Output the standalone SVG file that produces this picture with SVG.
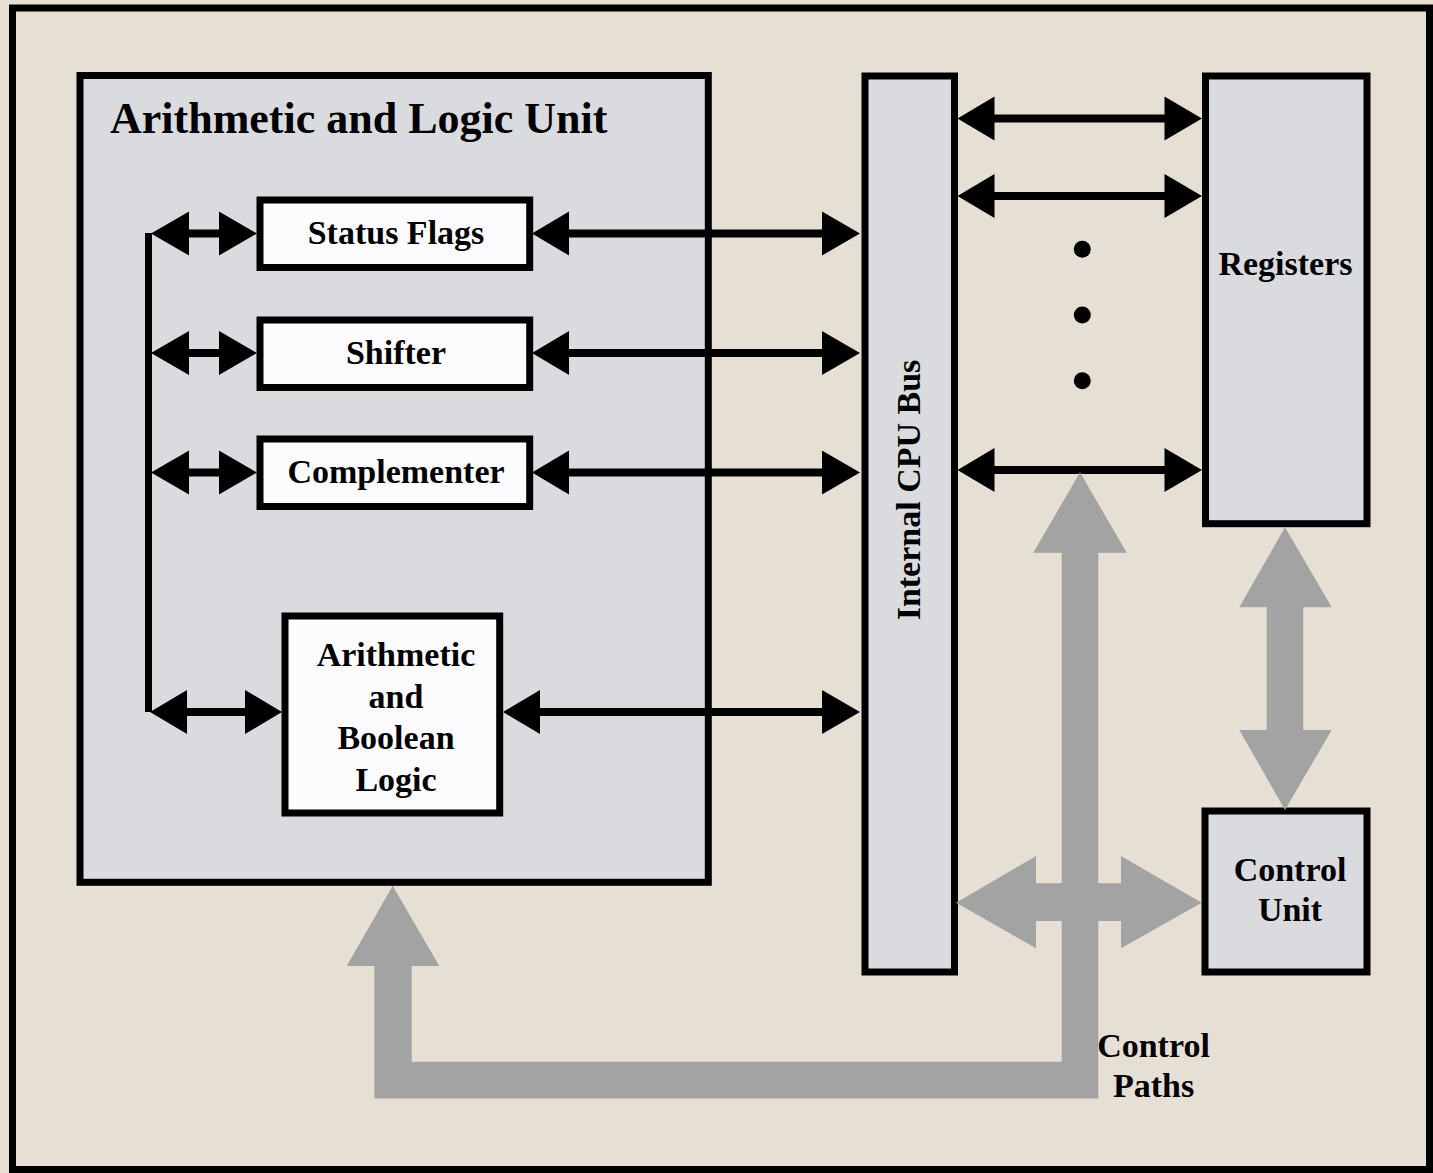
<svg xmlns="http://www.w3.org/2000/svg" width="1433" height="1173" viewBox="0 0 1433 1173">
<style>
.bg{fill:#E6E0D4}
.frame{fill:none;stroke:#000;stroke-width:7}
.panel{fill:#DADBDE;stroke:#000;stroke-width:7}
.box{fill:#FCFCFF;stroke:#000;stroke-width:7}
.t{font-family:"Liberation Serif","Times New Roman",serif;font-weight:bold;fill:#000}
.c{text-anchor:middle;font-size:34px}
.blk{fill:#000}
.gry{fill:#A3A3A3}
.wire{stroke:#000;stroke-width:7;fill:none}
</style>
<rect class="bg" x="0" y="0" width="1433" height="1173"/>
<rect class="frame" x="12.5" y="8" width="1417" height="1161.5"/>

<g id="alu">
<rect class="panel" x="80" y="75.5" width="628.3" height="806.8"/>
<text class="t" x="110" y="133" font-size="44">Arithmetic and Logic Unit</text>
</g>
<g id="status-flags">
<rect class="box" x="260" y="200" width="269.7" height="67.5"/>
<text class="t c" x="396" y="244">Status Flags</text>
</g>
<g id="shifter">
<rect class="box" x="260" y="320" width="269.7" height="67.5"/>
<text class="t c" x="396" y="364">Shifter</text>
</g>
<g id="complementer">
<rect class="box" x="260" y="439" width="269.7" height="67.5"/>
<text class="t c" x="396" y="483">Complementer</text>
</g>
<g id="arith-bool">
<rect class="box" x="285" y="616" width="214.7" height="197"/>
<text class="t c" x="396" y="666">Arithmetic</text>
<text class="t c" x="396" y="707.5">and</text>
<text class="t c" x="396" y="749">Boolean</text>
<text class="t c" x="396" y="790.5">Logic</text>
</g>
<g id="bus">
<rect class="panel" x="865" y="76" width="89.5" height="896"/>
<text class="t c" transform="translate(920,490) rotate(-90)">Internal CPU Bus</text>
</g>
<g id="registers">
<rect class="panel" x="1205.5" y="76" width="161.5" height="447.7"/>
<text class="t c" x="1285.5" y="275">Registers</text>
</g>
<g id="control-unit">
<rect class="panel" x="1205" y="811" width="162" height="161"/>
<text class="t c" x="1290" y="880.7">Control</text>
<text class="t c" x="1290" y="920.7">Unit</text>
</g>
<g id="control-paths-label">
<text class="t c" x="1153.5" y="1056.7">Control</text>
<text class="t c" x="1153.5" y="1097.3">Paths</text>
</g>

<g id="connectors">
<!-- internal ALU bus line -->
<line class="wire" x1="148.5" y1="233" x2="148.5" y2="712"/>
<!-- small double arrows: vertical line to boxes -->
<g class="blk">
<path d="M151,233.5 L189,211.5 L189,229.5 L219,229.5 L219,211.5 L257,233.5 L219,255.5 L219,237.5 L189,237.5 L189,255.5 Z"/>
<path d="M151,353 L189,331 L189,349 L219,349 L219,331 L257,353 L219,375 L219,357 L189,357 L189,375 Z"/>
<path d="M151,472.5 L189,450.5 L189,468.5 L219,468.5 L219,450.5 L257,472.5 L219,494.5 L219,476.5 L189,476.5 L189,494.5 Z"/>
<path d="M150,712 L187,690 L187,708 L245,708 L245,690 L282,712 L245,734 L245,716 L187,716 L187,734 Z"/>
<!-- box to bus -->
<path d="M532,233.5 L569,211.5 L569,229.5 L822,229.5 L822,211.5 L860,233.5 L822,255.5 L822,237.5 L569,237.5 L569,255.5 Z"/>
<path d="M532,353 L569,331 L569,349 L822,349 L822,331 L860,353 L822,375 L822,357 L569,357 L569,375 Z"/>
<path d="M532,472.5 L569,450.5 L569,468.5 L822,468.5 L822,450.5 L860,472.5 L822,494.5 L822,476.5 L569,476.5 L569,494.5 Z"/>
<path d="M503,712 L540,690 L540,708 L822,708 L822,690 L860,712 L822,734 L822,716 L540,716 L540,734 Z"/>
<!-- bus to registers -->
<path d="M957.5,118.5 L994.5,96.5 L994.5,114.5 L1164.5,114.5 L1164.5,96.5 L1202,118.5 L1164.5,140.5 L1164.5,122.5 L994.5,122.5 L994.5,140.5 Z"/>
<path d="M957.5,196 L994.5,174 L994.5,192 L1164.5,192 L1164.5,174 L1202,196 L1164.5,218 L1164.5,200 L994.5,200 L994.5,218 Z"/>
<path d="M957.5,470 L994.5,448 L994.5,466 L1164.5,466 L1164.5,448 L1202,470 L1164.5,492 L1164.5,474 L994.5,474 L994.5,492 Z"/>
<circle cx="1082.3" cy="249.3" r="8.5"/>
<circle cx="1082.3" cy="315" r="8.5"/>
<circle cx="1082.3" cy="380.7" r="8.5"/>
</g>
<!-- gray control paths -->
<g class="gry">
<path d="M1080,472.3 L1126.7,552.7 L1098.3,552.7 L1098.3,1098.5 L374.3,1098.5 L374.3,966 L346.7,966 L392.7,885.7 L439.3,966 L411.7,966 L411.7,1061.7 L1061.7,1061.7 L1061.7,552.7 L1033.3,552.7 Z"/>
<path d="M956,902.7 L1036,856 L1036,883.3 L1121,883.3 L1121,856 L1201.7,902.7 L1121,948.3 L1121,921 L1036,921 L1036,948.3 Z"/>
<path d="M1285,527.3 L1331.7,607.3 L1303.3,607.3 L1303.3,730 L1331.7,730 L1285,810 L1239.3,730 L1266.7,730 L1266.7,607.3 L1239.3,607.3 Z"/>
</g>
</g>
</svg>
